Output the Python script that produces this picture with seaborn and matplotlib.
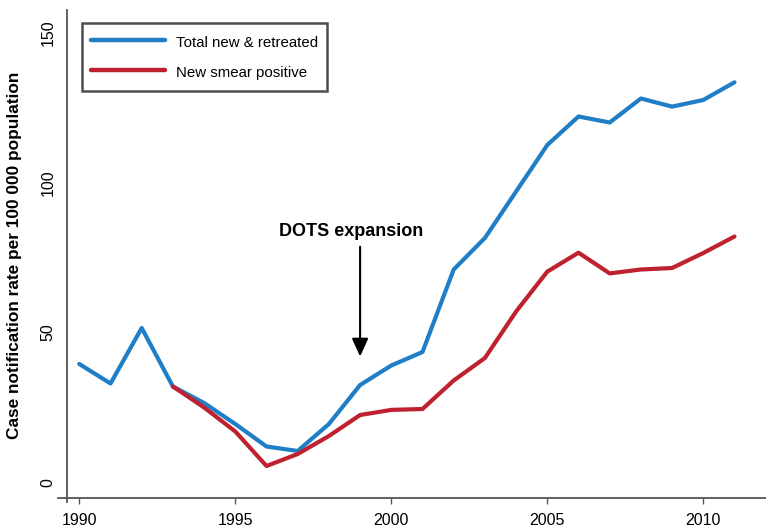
import matplotlib
matplotlib.use("Agg")
import matplotlib.pyplot as plt
from matplotlib import font_manager
import numpy as np
import pandas as pd
import seaborn as sns

# Case notification rates per 100 000 population
years_total = list(range(1990, 2012))
total_new_retreated = [39.5, 33.0, 51.5, 32.0, 26.5, 19.5, 12.0, 10.5, 19.5, 32.5,
                       39.0, 43.5, 71.0, 81.5, 97.0, 112.5, 122.0, 120.0, 128.0,
                       125.3, 127.5, 133.4]

years_smear = list(range(1993, 2012))
new_smear_positive = [32.0, 25.0, 17.0, 5.5, 9.5, 15.5, 22.5, 24.2, 24.5, 34.0,
                      41.5, 57.0, 70.3, 76.6, 69.7, 71.0, 71.5, 76.5, 82.0]

series_labels = ["Total new & retreated", "New smear positive"]
series_colors = ["#1F7EC6", "#C0212E"]
x_ticks = [1990, 1995, 2000, 2005, 2010]
y_ticks = [0, 50, 100, 150]
annotation_text = "DOTS expansion"
annotation_year = 1999
y_title = "Case notification rate per 100 000 population"

sns.set_style("white")
names = {f.name for f in font_manager.fontManager.ttflist}
narrow = "Liberation Sans Narrow" if "Liberation Sans Narrow" in names else "Liberation Sans"
tick_size = 12.5 if narrow == "Liberation Sans Narrow" else 11.5
legend_size = 12.5 if narrow == "Liberation Sans Narrow" else 10.8
plt.rcParams["font.family"] = ["Liberation Sans", "DejaVu Sans"]
plt.rcParams["text.color"] = "black"
plt.rcParams["xtick.labelcolor"] = "black"
plt.rcParams["ytick.labelcolor"] = "black"

df = pd.concat([
    pd.DataFrame({"year": years_total, "rate": total_new_retreated, "series": series_labels[0]}),
    pd.DataFrame({"year": years_smear, "rate": new_smear_positive, "series": series_labels[1]}),
], ignore_index=True)

W, H = 766, 532
fig = plt.figure(figsize=(W / 100, H / 100), dpi=100)
ax = fig.add_axes([58 / W, 1 - 502 / H, 708 / W, 492 / H])

sns.lineplot(data=df, x="year", y="rate", hue="series", hue_order=series_labels,
             palette=series_colors, linewidth=3.0, ax=ax, legend=False,
             solid_capstyle="round")

ax.set_xlim(1989.317, 2012.01)
ax.set_ylim(-6.5, 157.5)

# detached axis lines
for side in ("top", "right"):
    ax.spines[side].set_visible(False)
ax.spines["left"].set_position(("data", 1989.62))
ax.spines["bottom"].set_position(("data", -5))
for side in ("left", "bottom"):
    ax.spines[side].set_color("#555555")
    ax.spines[side].set_linewidth(1.3)

ax.set_xticks(x_ticks)
ax.set_xticklabels([str(t) for t in x_ticks], fontfamily=narrow, fontsize=tick_size)
ax.set_yticks(y_ticks)
ax.set_yticklabels([str(t) for t in y_ticks], fontfamily=narrow, fontsize=tick_size,
                   rotation=90, va="center")
ax.tick_params(axis="x", bottom=True, direction="out", length=4, width=1,
               color="#555555", pad=7)
ax.tick_params(axis="y", left=False, length=0, pad=8.5)
ax.set_xlabel("")
ax.set_ylabel("")
ax.grid(False)

fig.text(15 / W, 1 - 255 / H, y_title, rotation=90, ha="center", va="center",
         fontsize=12.4, fontweight="bold", color="black")

# policy annotation
ax.annotate("", xy=(annotation_year, 42.0), xytext=(annotation_year, 78.6),
            arrowprops=dict(arrowstyle="-|>,head_length=0.55,head_width=0.25",
                            color="black", lw=1.5, mutation_scale=20,
                            shrinkA=0, shrinkB=0))
ax.text(1998.72, 83.6, annotation_text, ha="center", va="center",
        fontsize=13, fontweight="bold", color="black")

handles = [plt.Line2D([], [], color=c, lw=3.2, solid_capstyle="round") for c in series_colors]
leg = ax.legend(handles, series_labels, loc="upper left",
                bbox_to_anchor=(81.7 / W, 1 - 23.3 / H), bbox_transform=fig.transFigure,
                borderaxespad=0, frameon=True, fancybox=False,
                prop={"family": narrow, "size": legend_size},
                handlelength=4.9, handleheight=1.6, handletextpad=0.75,
                borderpad=0.62, labelspacing=0.72)
leg.get_frame().set_edgecolor("#222222")
leg.get_frame().set_linewidth(1.8)
for t in leg.get_texts():
    t.set_color("black")

fig.savefig("out.png", dpi=100)
